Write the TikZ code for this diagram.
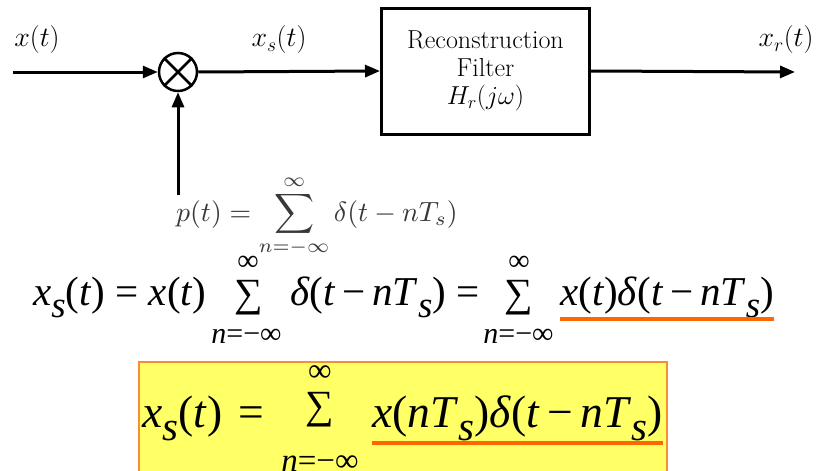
\RequirePackage{fix-cm}
\documentclass[tikz,border=0pt]{standalone}
\usepackage{fontspec}
\usepackage{graphicx}
\usetikzlibrary{arrows.meta}

\newfontfamily\eqfont{Liberation Serif}
\newcommand\lows[1]{\raisebox{-0.3em}{\fontsize{#1}{#1}\selectfont\textit{s}}}
\newcommand\diagfont{\fontsize{28}{30}\selectfont}
\newcommand\boxfont{\fontsize{26}{28}\selectfont}

\definecolor{markorange}{RGB}{255,102,0}
\definecolor{boxorange}{RGB}{250,140,50}
\definecolor{hiyellow}{RGB}{255,255,102}

\tikzset{
  sig/.style={line width=3pt, -{Triangle[length=15pt,width=12pt]}},
  eqone/.style={inner sep=0pt, font=\eqfont\fontsize{41}{41}\selectfont},
  eqonelim/.style={inner sep=0pt, font=\eqfont\fontsize{30}{30}\selectfont},
  eqtwo/.style={inner sep=0pt, font=\eqfont\fontsize{45.5}{46}\selectfont},
  eqtwolim/.style={inner sep=0pt, font=\eqfont\fontsize{33}{33}\selectfont},
  sumsign/.style={inner sep=0pt, font=\eqfont\fontsize{#1}{#1}\selectfont},
  uline/.style={markorange, line width=3.5pt}
}

\begin{document}
\begin{tikzpicture}[x=1pt, y=-1pt]
    \useasboundingbox[fill=white] (0,0) rectangle (823,471);

    % block diagram
    \coordinate (xin) at (13,72);
    \coordinate (xout) at (795,72);
    \coordinate (pin) at (178,195);

    \node[draw, circle, line width=2.5pt, minimum size=38pt, inner sep=0pt] (mult) at (178,72) {};
    \draw[line width=2.5pt] (mult.north west) -- (mult.south east);
    \draw[line width=2.5pt] (mult.north east) -- (mult.south west);

    \node[draw, line width=3pt, minimum width=208pt, minimum height=126pt,
          align=center, font=\boxfont] (filt) at (485.5,71)
          {Reconstruction\\Filter\\$H_r(j\omega)$};

    \draw[sig] (xin) -- (mult.west);
    \draw[sig] (mult.east) -- (filt.west);
    \draw[sig] (filt.east) -- (xout);
    \draw[sig] (pin) -- (mult.south);

    \node[font=\diagfont] (lblx) at (37,40) {$x(t)$};
    \node[font=\diagfont] (lblxs) at (279,40) {$x_s(t)$};
    \node[font=\diagfont] (lblxr) at (786,40) {$x_r(t)$};
    \node[anchor=base west, inner sep=0pt, text=black!78] (peq) at (176,221)
          {\scalebox{2.78}{$p(t) = \displaystyle\sum_{n=-\infty}^{\infty} \delta(t-nT_s)$}};

    % first equation
    \node[eqone, anchor=base west] (e1lhs) at (33,305)
          {\textit{x}\lows{37}(\textit{t}) = \textit{x}(\textit{t})};
    \node[sumsign=40] (e1suma) at (248.5,298) {∑};
    \node[eqonelim] (e1upa) at (248,263) {∞};
    \node[eqonelim] (e1lowa) at (246.5,336) {\textit{n}=−∞};
    \node[eqone, anchor=base west] (e1mid) at (290,305)
          {\textit{δ}(\textit{t}\,−\,\textit{nT}\lows{37}) =};
    \node[sumsign=40] (e1sum) at (518.5,298) {∑};
    \node[eqonelim] (e1up) at (519,263) {∞};
    \node[eqonelim] (e1low) at (518.5,336) {\textit{n}=−∞};
    \node[eqone, anchor=base west] (e1rhs) at (560,305)
          {\textit{x}(\textit{t})\textit{δ}(\textit{t}\,−\,\textit{nT}\lows{37})};
    \draw[uline] ([yshift=-14pt]e1rhs.base west) -- ([yshift=-14pt]e1rhs.base east);

    % boxed result
    \draw[fill=hiyellow, draw=boxorange, line width=1.2pt] (139,362) rectangle (667,480);
    \node[eqtwo, anchor=base west] (e2lhs) at (142,427)
          {\textit{x}\lows{41}(\textit{t})\hspace{0.1em} =};
    \node[sumsign=40] (e2sum) at (320,410) {∑};
    \node[eqtwolim] (e2up) at (320,374) {∞};
    \node[eqtwolim] (e2low) at (320,464) {\textit{n}=−∞};
    \node[eqtwo, anchor=base west] (e2rhs) at (372,427)
          {\textit{x}(\textit{nT}\lows{41})\textit{δ}(\textit{t}\,−\,\textit{nT}\lows{41})};
    \draw[uline] ([yshift=-16pt]e2rhs.base west) -- ([yshift=-16pt]e2rhs.base east);
\end{tikzpicture}
\end{document}
